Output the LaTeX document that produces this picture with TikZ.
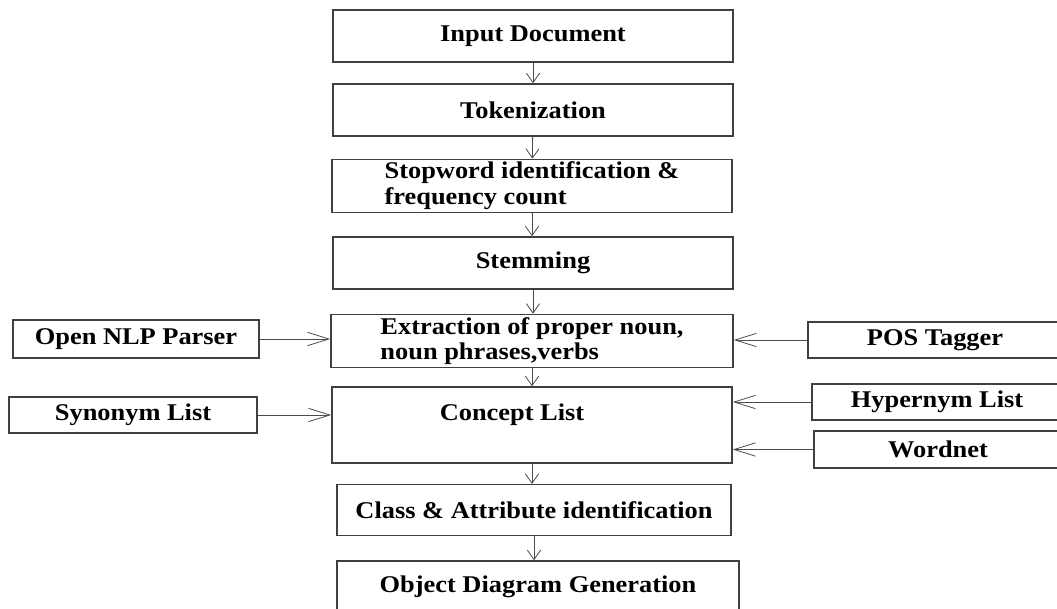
\documentclass[tikz,border=0pt]{standalone}
\usepackage{fontspec}
\setmainfont{Liberation Serif}[FakeStretch=1.1]
\usetikzlibrary{positioning, arrows.meta}
\tikzset{
x=0.75pt, y=-0.75pt, % one unit is one pixel, y runs downwards
every node/.style={font=\bfseries\fontsize{18}{19.3}\selectfont}, % bold serif text everywhere
block/.style={draw=black!75, line width=1.2pt, minimum width=300pt, minimum height=39pt, inner sep=2pt, align=left}, % the main column
side/.style={draw=black!75, line width=1.2pt, minimum height=27pt, inner sep=2pt}, % the inputs on the left and right
flow/.style={-{Straight Barb[length=7pt,width=10pt]}, draw=black!70, line width=0.6pt}, % arrows down the column
feed/.style={-{Straight Barb[length=16pt,width=10pt]}, draw=black!70, line width=0.6pt}, % arrows from the side boxes
}

\begin{document}
\begin{tikzpicture}
    \clip (0,0) rectangle (1057,609);
    \node[block] (input) at (533,36) {Input Document};
    \node[block] (token) at (533,110) {Tokenization};
    \node[block] (stop) at (532,186) {Stopword identification \&\\frequency count};
    \node[block] (stem) at (533,263) {Stemming};
    \node[block, minimum width=301.5pt] (extract) at (532,341) {Extraction of proper noun,\\noun phrases,verbs};
    \node[block, minimum height=57pt] (concept) at (532,425) {Concept List\hspace*{30pt}\\ \mbox{}};
    \node[block, minimum width=295.5pt, minimum height=38pt] (class) at (534,510) {Class \& Attribute identification};
    \node[block, minimum width=301.5pt] (object) at (538,587) {Object Diagram Generation};
    \node[side, minimum width=184.5pt, minimum height=28.5pt] (nlp) at (136,339) {Open NLP Parser};
    \node[side, minimum width=186pt] (syn) at (133,415) {Synonym List};
    \node[side, minimum width=190.5pt] (pos) at (935,340) {POS Tagger};
    \node[side, minimum width=187.5pt] (hyper) at (937,402) {Hypernym List};
    \node[side, minimum width=186pt, minimum height=28pt] (wordnet) at (938,449.5) {Wordnet};
    \draw[flow] (input) -- (token);
    \draw[flow] (token) -- (stop);
    \draw[flow] (stop.south) -- (stop.south |- stem.north);
    \draw[flow] (stem.south) -- (stem.south |- extract.north);
    \draw[flow] (extract.south) -- (extract.south |- concept.north);
    \draw[flow] (concept.south) -- (concept.south |- class.north);
    \draw[flow] (class.south) -- (class.south |- object.north);
    \draw[feed] (nlp.east) -- (nlp.east -| extract.west);
    \draw[feed] (syn.east) -- (syn.east -| concept.west);
    \draw[feed] (pos.west) -- (pos.west -| extract.east);
    \draw[feed] (hyper.west) -- (hyper.west -| concept.east);
    \draw[feed] (wordnet.west) -- (wordnet.west -| concept.east);
\end{tikzpicture}
\end{document}
